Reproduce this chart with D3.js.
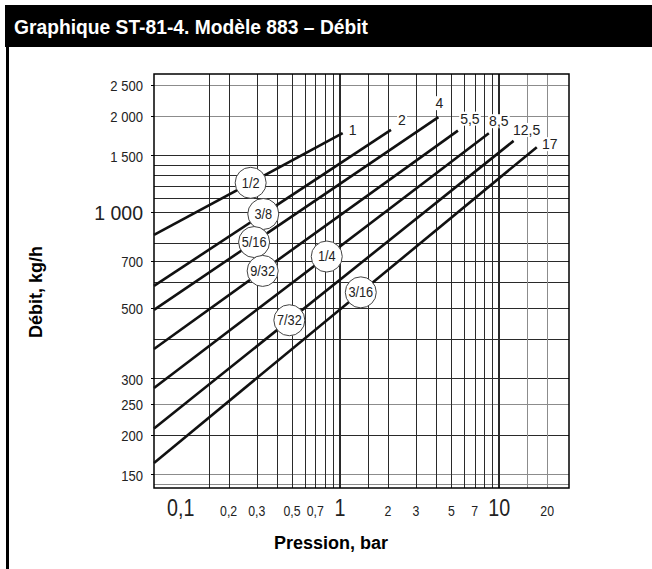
<!DOCTYPE html>
<html>
<head>
<meta charset="utf-8">
<script src="https://cdn.jsdelivr.net/npm/d3@7"></script>
<style>
  body { margin: 0; background: #fff; }
  svg { display: block; }
</style>
</head>
<body>
<svg id="chart" width="652" height="569"></svg>
<script>
// Size of the picture and of the plotting area
const w = 652;
const h = 569;
const plot = { left: 154, right: 569, top: 74, bottom: 488 };
const regular = "'Liberation Sans', Arial, Helvetica, sans-serif";

// x axis: pressure (bar), log scale
const pressureTicks = [0.1, 0.2, 0.3, 0.5, 0.7, 1, 2, 3, 5, 7, 10, 20];
const pressureLabels = ["0,1", "0,2", "0,3", "0,5", "0,7", "1", "2", "3", "5", "7", "10", "20"];
const pressureBig = [0.1, 1, 10];
const pressureGrid = [0.15, 0.2, 0.3, 0.4, 0.5, 0.6, 0.7, 0.8, 0.9, 1, 1.5, 2, 3, 4, 5, 6, 7, 8, 9, 10, 15, 20];
const pressureLight = [15, 20];

// y axis: flow (kg/h), log scale
const flowTicks = [150, 200, 250, 300, 500, 700, 1000, 1500, 2000, 2500];
const flowLabels = ["150", "200", "250", "300", "500", "700", "1 000", "1 500", "2 000", "2 500"];
const flowGrid = [140, 150, 200, 250, 300, 400, 500, 600, 700, 800, 1000, 1100, 1200, 1300, 1400, 1500, 2000, 2500];
const flowLight = [140, 150, 250, 2000, 2500];

// One straight line (in log-log) per orifice size
const sizes = ["1/2", "3/8", "5/16", "9/32", "1/4", "7/32", "3/16"];
const endLabels = ["1", "2", "4", "5,5", "8,5", "12,5", "17"];
const startPressure = 0.068;
const flowAtStart = [845, 585, 492, 371, 280, 209, 163];
const maxPressure = [1.04, 2.09, 4.15, 5.5, 8.6, 12.3, 17.2];
const flowAtMax = [1761, 1803, 1977, 1794, 1761, 1666, 1592];
// pressure where the circled size label sits on each line
const sizeLabelPressure = [0.275, 0.33, 0.289, 0.327, 0.826, 0.481, 1.351];

// offsets (px) of the end labels from the end of each line
const endLabelOffset = [[10, -3], [11, -10], [1, -14], [12, -12], [10, -12], [13, -11], [13, -3]];

const x = d3.scaleLog().domain([startPressure, 27.4]).range([plot.left, plot.right]);
const y = d3.scaleLog().domain([136, 2700]).range([plot.bottom, plot.top]);

const svg = d3.select("#chart");

// crisp 1px lines
const px = v => Math.round(v) + 0.5;

// Title bar
svg.append("rect")
  .attr("x", 5).attr("y", 5)
  .attr("width", w - 5).attr("height", 42)
  .attr("fill", "#000");

// condensed look: Liberation Sans squeezed to the width of the original
svg.append("text")
  .attr("x", 14).attr("y", 34)
  .attr("fill", "#fff")
  .style("font-family", regular)
  .style("font-weight", "bold")
  .style("font-size", "20px")
  .attr("textLength", 354)
  .attr("lengthAdjust", "spacingAndGlyphs")
  .text("Graphique ST-81-4. Modèle 883 – Débit");

// left frame line of the figure
svg.append("rect")
  .attr("x", 6).attr("y", 47)
  .attr("width", 3).attr("height", h - 47)
  .attr("fill", "#000");

// Horizontal grid
svg.append("g")
  .selectAll("line")
  .data(flowGrid)
  .join("line")
  .attr("x1", plot.left).attr("x2", plot.right)
  .attr("y1", d => px(y(d))).attr("y2", d => px(y(d)))
  .attr("stroke", d => flowLight.includes(d) ? "#8c8c8c" : "#2a2a2a")
  .attr("stroke-width", 1);

// Vertical grid, decades drawn heavier
svg.append("g")
  .selectAll("line")
  .data(pressureGrid)
  .join("line")
  .attr("y1", plot.top).attr("y2", plot.bottom)
  .attr("x1", d => pressureBig.includes(d) ? Math.round(x(d)) : px(x(d)))
  .attr("x2", d => pressureBig.includes(d) ? Math.round(x(d)) : px(x(d)))
  .attr("stroke", d => pressureLight.includes(d) ? "#8c8c8c" : "#2a2a2a")
  .attr("stroke-width", d => pressureBig.includes(d) ? 2 : 1);

// Plot frame
svg.append("rect")
  .attr("x", plot.left).attr("y", plot.top)
  .attr("width", plot.right - plot.left)
  .attr("height", plot.bottom - plot.top)
  .attr("fill", "none")
  .attr("stroke", "#000")
  .attr("stroke-width", 1.5);

// small ticks on the left at labelled flows
svg.append("g")
  .selectAll("line")
  .data(flowTicks)
  .join("line")
  .attr("x1", plot.left - 3).attr("x2", plot.left)
  .attr("y1", d => px(y(d))).attr("y2", d => px(y(d)))
  .attr("stroke", "#000");

// y tick labels (narrow, 1 000 is larger)
svg.append("g")
  .selectAll("text")
  .data(flowTicks)
  .join("text")
  .attr("transform", d => d === 1000
    ? `translate(${plot.left - 11}, ${y(d) + 1})`
    : `translate(${plot.left - 11}, ${y(d) + 1}) scale(0.87,1)`)
  .attr("text-anchor", "end")
  .attr("dominant-baseline", "central")
  .attr("fill", "#222")
  .style("font-family", regular)
  .style("font-size", d => d === 1000 ? "19.5px" : "15px")
  .text((d, i) => flowLabels[i]);

// x tick labels
svg.append("g")
  .selectAll("text")
  .data(pressureTicks)
  .join("text")
  .attr("transform", d => `translate(${x(d)}, 516) scale(${pressureBig.includes(d) ? 0.82 : 0.88},1)`)
  .attr("text-anchor", "middle")
  .attr("fill", "#222")
  .style("font-family", regular)
  .style("font-size", d => pressureBig.includes(d) ? "24px" : "14px")
  .text((d, i) => pressureLabels[i]);

// Axis titles
svg.append("text")
  .attr("transform", "translate(36,292) rotate(-90)")
  .attr("text-anchor", "middle")
  .attr("dominant-baseline", "central")
  .style("font-family", regular)
  .style("font-weight", "bold")
  .style("font-size", "18px")
  .text("Débit, kg/h");

svg.append("text")
  .attr("x", 331).attr("y", 549)
  .attr("text-anchor", "middle")
  .style("font-family", regular)
  .style("font-weight", "bold")
  .style("font-size", "18px")
  .text("Pression, bar");

// Build the series from the arrays
const series = sizes.map((s, i) => ({
  size: s,
  end: endLabels[i],
  points: [[startPressure, flowAtStart[i]], [maxPressure[i], flowAtMax[i]]],
  labelP: sizeLabelPressure[i],
  offset: endLabelOffset[i]
}));

// flow on a line at a given pressure (straight in log-log)
function flowAt(s, p) {
  const [p0, f0] = s.points[0];
  const [p1, f1] = s.points[1];
  const t = Math.log(p / p0) / Math.log(p1 / p0);
  return Math.exp(Math.log(f0) + t * (Math.log(f1) - Math.log(f0)));
}

const line = d3.line()
  .x(d => x(d[0]))
  .y(d => y(d[1]));

svg.append("g")
  .selectAll("path")
  .data(series)
  .join("path")
  .attr("d", d => line(d.points))
  .attr("fill", "none")
  .attr("stroke", "#111")
  .attr("stroke-width", 2.6);

// End labels (max pressure) with white box behind
const ends = svg.append("g")
  .selectAll("g")
  .data(series)
  .join("g")
  .attr("transform", d => `translate(${x(d.points[1][0]) + d.offset[0]}, ${y(d.points[1][1]) + d.offset[1]})`);

ends.append("text")
  .attr("text-anchor", "middle")
  .attr("dominant-baseline", "central")
  .attr("fill", "#222")
  .style("font-family", regular)
  .style("font-size", "14px")
  .text(d => d.end);

ends.each(function() {
  const g = d3.select(this);
  const b = g.select("text").node().getBBox();
  g.insert("rect", "text")
    .attr("x", b.x - 1).attr("y", b.y + 1)
    .attr("width", b.width + 2).attr("height", b.height - 2)
    .attr("fill", "#fff");
});

// Circled orifice sizes
const tags = svg.append("g")
  .selectAll("g")
  .data(series)
  .join("g")
  .attr("transform", d => `translate(${x(d.labelP)}, ${y(flowAt(d, d.labelP))})`);

tags.append("circle")
  .attr("r", 15.5)
  .attr("fill", "#fff")
  .attr("stroke", "#444")
  .attr("stroke-width", 1);

tags.append("text")
  .attr("transform", "scale(0.88,1)")
  .attr("text-anchor", "middle")
  .attr("dominant-baseline", "central")
  .attr("fill", "#222")
  .style("font-family", regular)
  .style("font-size", "14.5px")
  .text(d => d.size);
</script>
</body>
</html>
